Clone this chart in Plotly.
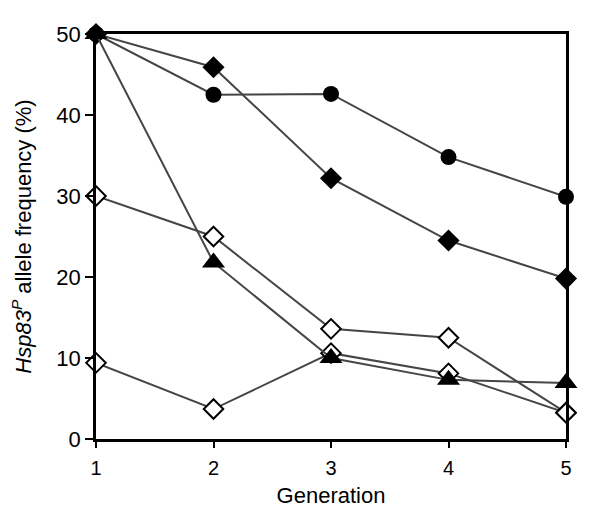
import plotly.graph_objects as go

generation = [1, 2, 3, 4, 5]
circles_filled = [50, 42.5, 42.6, 34.8, 29.9]
diamonds_filled = [50, 45.9, 32.2, 24.5, 19.8]
triangles_filled = [50, 21.8, 10.0, 7.3, 6.9]
diamonds_open_a = [30, 25.0, 13.6, 12.5, 3.25]
diamonds_open_b = [9.4, 3.7, 10.6, 8.1, 3.25]

LINE = "#454545"

fig = go.Figure()

def add(y, symbol, fill, size):
    fig.add_trace(go.Scatter(
        x=generation, y=y, mode="lines+markers",
        line=dict(color=LINE, width=2),
        marker=dict(symbol=symbol, size=size, color=fill,
                    line=dict(color="black", width=2 if fill == "white" else 0)),
        cliponaxis=False, showlegend=False,
    ))

add(diamonds_open_a, "diamond", "white", 15)
add(diamonds_open_b, "diamond", "white", 15)
add(circles_filled, "circle", "black", 16)
add(diamonds_filled, "diamond", "black", 17)
add(triangles_filled, "triangle-up", "black", 20)

font = "Liberation Sans, Arial, sans-serif"
fig.update_layout(
    width=592, height=510,
    margin=dict(l=88, r=34, t=26, b=79),
    paper_bgcolor="white", plot_bgcolor="white",
    font=dict(family=font, size=20, color="black"),
    xaxis=dict(range=[1, 5], tickvals=generation, ticks="outside", ticklen=6,
               tickwidth=2, tickcolor="black", showline=True, linecolor="black",
               linewidth=2.5, mirror=True, showgrid=False, zeroline=False,
               automargin=False, tickfont=dict(size=20), ticklabelstandoff=3,
               title=dict(text="Generation", font=dict(size=22), standoff=10)),
    yaxis=dict(range=[0, 50], tickvals=[0, 10, 20, 30, 40, 50], ticks="outside",
               ticklen=8, tickwidth=2, tickcolor="black", showline=True,
               linecolor="black", linewidth=2.5, mirror=True, showgrid=False,
               zeroline=False, automargin=False, tickfont=dict(size=22),
               ticklabelstandoff=0,
               title=dict(text="<i>Hsp83<sup>P</sup></i> allele frequency (%)",
                          font=dict(size=22), standoff=21)),
)

fig.write_html("out.html")
